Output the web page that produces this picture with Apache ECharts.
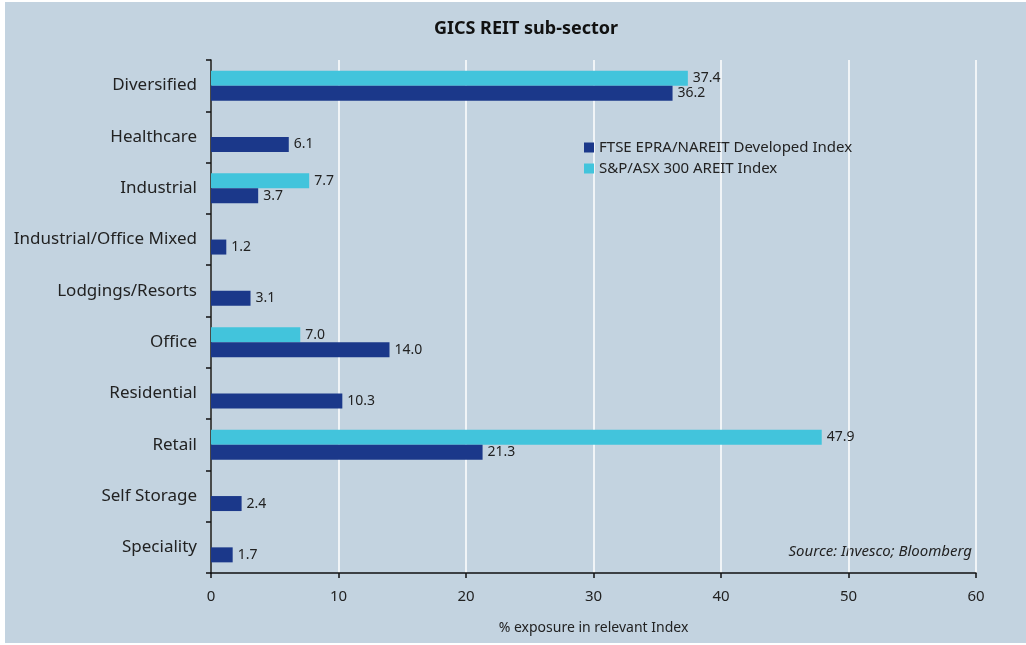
<!DOCTYPE html>
<html>
<head>
<meta charset="utf-8">
<script src="https://cdn.jsdelivr.net/npm/echarts@6/dist/echarts.min.js"></script>
<style>
  html, body { margin: 0; padding: 0; background: #fff; }
  #chart { position: absolute; left: 5px; top: 2px; width: 1021px; height: 641px; background: #c3d3e0; }
</style>
</head>
<body>
<div id="chart"></div>
<script>
const categories = ["Diversified", "Healthcare", "Industrial", "Industrial/Office Mixed", "Lodgings/Resorts",
  "Office", "Residential", "Retail", "Self Storage", "Speciality"];
const ftseValues = [36.2, 6.1, 3.7, 1.2, 3.1, 14.0, 10.3, 21.3, 2.4, 1.7];
const asxValues = [37.4, null, 7.7, null, null, 7.0, null, 47.9, null, null];
const xTicks = [0, 10, 20, 30, 40, 50, 60];

document.addEventListener("DOMContentLoaded", function () {
  const chartDom = document.getElementById("chart");
  const myChart = echarts.init(chartDom);
  const font = "Noto Sans";
  const labelStyle = {
    show: true,
    position: "right",
    distance: 5,
    color: "#222",
    fontSize: 14,
    fontFamily: font,
    formatter: function (p) { return p.value.toFixed(1); },
  };
  const option = {
    animation: false,
    title: {
      text: "GICS REIT sub-sector",
      left: 516,
      textAlign: "center",
      top: 13,
      textStyle: { fontFamily: font, fontSize: 18, fontWeight: "bold", color: "#111" },
    },
    legend: {
      data: ["FTSE EPRA/NAREIT Developed Index", "S&P/ASX 300 AREIT Index"],
      orient: "vertical",
      left: 574,
      top: 133,
      itemWidth: 10,
      itemHeight: 10,
      itemGap: 6,
      icon: "rect",
      textStyle: { fontFamily: font, fontSize: 15, color: "#222" },
    },
    graphic: [
      {
        type: "text",
        right: 54,
        top: 542,
        style: { text: "Source: Invesco; Bloomberg", font: "italic 15px 'Noto Sans'", fill: "#222" },
      },
    ],
    grid: { left: 206, right: 50, top: 58, bottom: 70 },
    xAxis: {
      type: "value",
      min: xTicks[0],
      max: xTicks[xTicks.length - 1],
      interval: 10,
      name: "% exposure in relevant Index",
      nameLocation: "middle",
      nameGap: 48,
      nameTextStyle: { fontFamily: font, fontSize: 14, color: "#222" },
      axisLine: { show: true, lineStyle: { color: "#111", width: 1.5 } },
      axisTick: { show: true, length: 5, lineStyle: { color: "#111", width: 1.5 } },
      axisLabel: { fontFamily: font, fontSize: 15, color: "#222", margin: 16 },
      splitLine: { show: true, lineStyle: { color: "#ffffff", width: 1.5 } },
    },
    yAxis: {
      type: "category",
      inverse: true,
      data: categories,
      axisLine: { lineStyle: { color: "#111", width: 1.5 } },
      axisTick: { show: true, length: 5, lineStyle: { color: "#111", width: 1.5 } },
      axisLabel: { fontFamily: font, fontSize: 17, color: "#222", margin: 14 },
    },
    series: [
      {
        name: "S&P/ASX 300 AREIT Index",
        type: "bar",
        data: asxValues,
        barWidth: 15,
        barGap: "0%",
        itemStyle: { color: "#42c4dc" },
        label: labelStyle,
      },
      {
        name: "FTSE EPRA/NAREIT Developed Index",
        type: "bar",
        data: ftseValues,
        barWidth: 15,
        barGap: "0%",
        itemStyle: { color: "#1b388a" },
        label: labelStyle,
      },
    ],
  };
  myChart.setOption(option);
});
</script>
</body>
</html>
